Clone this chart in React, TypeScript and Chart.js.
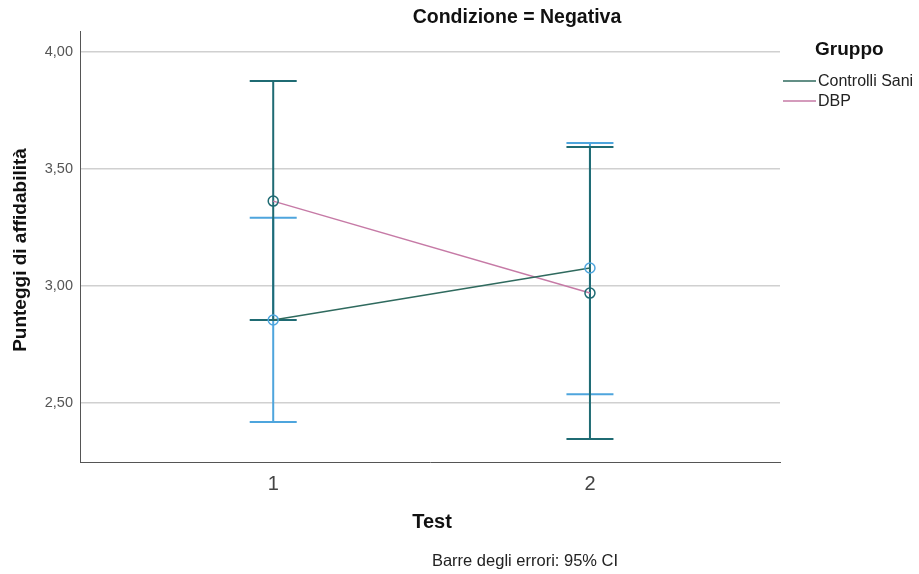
import React, { useEffect, useRef } from "react";
import { Chart, registerables } from "chart.js";

Chart.register(...registerables);

// Test sessions on the x axis
const tests = [1, 2];
// Group means
const controlliMeans = [2.855, 3.077];
const dbpMeans = [3.363, 2.970];
// 95% CI bounds
const controlliLow = [2.419, 2.538];
const controlliHigh = [3.292, 3.611];
const dbpLow = [2.855, 2.346];
const dbpHigh = [3.876, 3.594];
// Y axis tick values
const yTicks = [2.5, 3.0, 3.5, 4.0];

const FONT = "'Liberation Sans', Arial, sans-serif";
const CS_LINE = "#2f6a5e";
const CS_BAR = "#4ea5dd";
const DBP_LINE = "#c67aa6";
const DBP_BAR = "#1f6b73";

const groups = [
  { label: "Controlli Sani", means: controlliMeans, low: controlliLow, high: controlliHigh, line: CS_LINE, bar: CS_BAR },
  { label: "DBP", means: dbpMeans, low: dbpLow, high: dbpHigh, line: DBP_LINE, bar: DBP_BAR },
];

const errorBarsPlugin = {
  id: "errorBars",
  beforeDatasetsDraw(chart: any) {
    const { ctx, scales } = chart;
    const xs = scales.x;
    const ys = scales.y;
    const half = 23.5;
    ctx.save();
    ctx.lineWidth = 2;
    // lighter bars first so the darker ones sit on top
    groups.forEach((g) => {
      ctx.strokeStyle = g.bar;
      tests.forEach((t, i) => {
        const px = xs.getPixelForValue(t);
        const yl = ys.getPixelForValue(g.low[i]);
        const yh = ys.getPixelForValue(g.high[i]);
        ctx.beginPath();
        ctx.moveTo(px, yl);
        ctx.lineTo(px, yh);
        ctx.moveTo(px - half, yl);
        ctx.lineTo(px + half, yl);
        ctx.moveTo(px - half, yh);
        ctx.lineTo(px + half, yh);
        ctx.stroke();
      });
    });
    ctx.restore();
  },
};

const textPlugin = {
  id: "texts",
  afterDraw(chart: any) {
    const { ctx, chartArea } = chart;
    ctx.save();
    ctx.fillStyle = "#111";
    ctx.textBaseline = "middle";

    ctx.font = `bold 19.5px ${FONT}`;
    ctx.textAlign = "center";
    ctx.fillText("Condizione = Negativa", 517, 18);

    ctx.font = `bold 20px ${FONT}`;
    ctx.fillText("Test", (chartArea.left + chartArea.right) / 2 + 2, 522);

    ctx.save();
    ctx.font = `bold 19px ${FONT}`;
    ctx.translate(21, 250);
    ctx.rotate(-Math.PI / 2);
    ctx.fillText("Punteggi di affidabilità", 0, 0);
    ctx.restore();

    ctx.font = `16.5px ${FONT}`;
    ctx.fillStyle = "#222";
    ctx.fillText("Barre degli errori: 95% CI", 525, 561);

    // legend
    ctx.textAlign = "left";
    ctx.fillStyle = "#111";
    ctx.font = `bold 19px ${FONT}`;
    ctx.fillText("Gruppo", 815, 50);
    ctx.font = `16px ${FONT}`;
    groups.forEach((g, i) => {
      const y = 81 + i * 20;
      ctx.strokeStyle = g.line;
      ctx.lineWidth = 1.5;
      ctx.beginPath();
      ctx.moveTo(783, y);
      ctx.lineTo(816, y);
      ctx.stroke();
      ctx.fillStyle = "#222";
      ctx.fillText(g.label, 818, y + 1);
    });
    ctx.restore();
  },
};

export default function App() {
  const ref = useRef<HTMLCanvasElement | null>(null);

  useEffect(() => {
    document.body.style.margin = "0";
    const canvas = ref.current;
    if (!canvas) return;
    const chart = new Chart(canvas, {
      type: "line",
      data: {
        datasets: groups.map((g) => ({
          label: g.label,
          data: tests.map((t, i) => ({ x: t, y: g.means[i] })),
          borderColor: g.line,
          borderWidth: 1.5,
          pointRadius: 5,
          pointBorderWidth: 1.5,
          pointBorderColor: g.bar,
          pointBackgroundColor: "rgba(0,0,0,0)",
          fill: false,
          tension: 0,
        })),
      },
      options: {
        responsive: false,
        animation: false,
        events: [],
        layout: { padding: { top: 31, right: 139, left: 0, bottom: 0 } },
        scales: {
          x: {
            type: "linear",
            min: 0.39,
            max: 2.6,
            afterBuildTicks: (s: any) => {
              s.ticks = tests.map((v) => ({ value: v }));
            },
            afterFit: (s: any) => {
              s.height = 112;
            },
            grid: { display: false, drawTicks: false },
            border: { display: true, color: "#555", width: 1 },
            ticks: {
              padding: 10,
              color: "#444",
              font: { family: FONT, size: 20 },
              callback: (v: any) => String(v),
            },
          },
          y: {
            type: "linear",
            min: 2.248,
            max: 4.09,
            afterBuildTicks: (s: any) => {
              s.ticks = yTicks.map((v) => ({ value: v }));
            },
            afterFit: (s: any) => {
              s.width = 80;
            },
            grid: { color: "#d0d0d0", lineWidth: 1.5, drawTicks: false },
            border: { display: true, color: "#555", width: 1 },
            ticks: {
              padding: 7,
              color: "#555",
              font: { family: FONT, size: 14.5 },
              callback: (v: any) => Number(v).toFixed(2).replace(".", ","),
            },
          },
        },
        plugins: {
          legend: { display: false },
          tooltip: { enabled: false },
          title: { display: false },
        },
      },
      plugins: [errorBarsPlugin, textPlugin],
    });
    return () => chart.destroy();
  }, []);

  return (
    <div style={{ width: 919, height: 574, background: "#fff" }}>
      <canvas ref={ref} width={919} height={574} />
    </div>
  );
}
